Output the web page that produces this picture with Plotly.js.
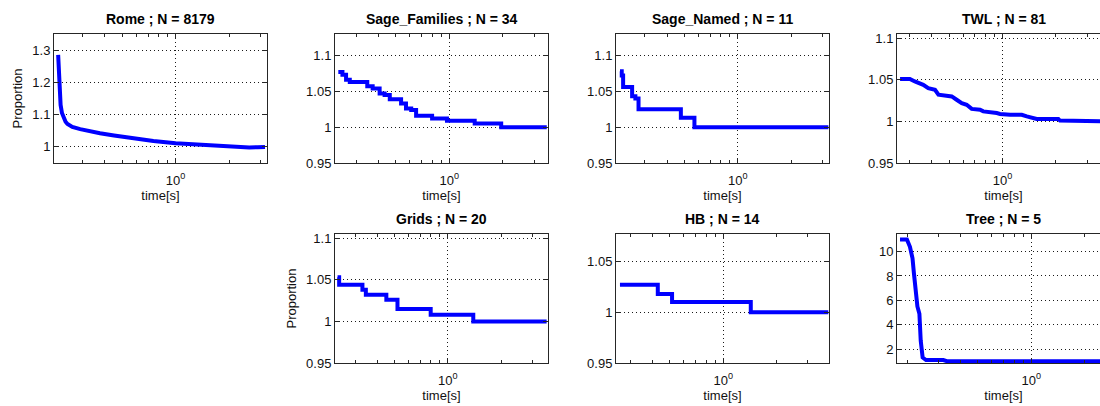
<!DOCTYPE html>
<html>
<head>
<meta charset="utf-8">
<script src="https://cdn.plot.ly/plotly-3.0.1.min.js"></script>
<style>
html,body{margin:0;padding:0;overflow:hidden;background:#fff;}
#chart{width:1120px;height:406px;}
</style>
</head>
<body>
<div id="chart"></div>
<script>
// ---------------- data ----------------
const panelNames  = ['Rome', 'Sage_Families', 'Sage_Named', 'TWL', 'Grids', 'HB', 'Tree'];
const panelCounts = [8179, 34, 11, 81, 20, 14, 5];

const romeTime = [0.218, 0.220, 0.222, 0.225, 0.229, 0.234, 0.240, 0.246, 0.253, 0.262, 0.29, 0.33, 0.375, 0.45, 0.578, 0.75, 1.0, 1.3, 1.7, 2.0, 2.3, 2.6, 2.9, 3.19];
const romeProp = [1.285, 1.23, 1.17, 1.13, 1.105, 1.09, 1.078, 1.071, 1.066, 1.062, 1.055, 1.048, 1.042, 1.035, 1.026, 1.018, 1.011, 1.007, 1.004, 1.002, 0.999, 0.998, 0.999, 1.0];

const sageFamTime = [0.237, 0.250, 0.262, 0.275, 0.345, 0.370, 0.405, 0.432, 0.462, 0.535, 0.570, 0.610, 0.650, 0.800, 0.970, 1.39, 1.96, 3.54];
const sageFamProp = [1.077, 1.073, 1.066, 1.063, 1.057, 1.054, 1.047, 1.045, 1.039, 1.033, 1.026, 1.024, 1.016, 1.012, 1.009, 1.005, 1.000, 1.000];

const sageNamTime = [0.217, 0.222, 0.226, 0.254, 0.265, 0.276, 0.478, 0.570, 3.24];
const sageNamProp = [1.078, 1.072, 1.056, 1.043, 1.040, 1.025, 1.013, 1.000, 1.000];

const twlTime = [0.265, 0.301, 0.321, 0.358, 0.382, 0.417, 0.436, 0.518, 0.552, 0.590, 0.629, 0.671, 0.748, 0.780, 0.929, 0.969, 1.104, 1.285, 1.371, 1.462, 1.560, 2.065, 2.11, 4.04];
const twlProp = [1.051, 1.051, 1.048, 1.044, 1.040, 1.038, 1.032, 1.030, 1.026, 1.022, 1.020, 1.015, 1.014, 1.012, 1.010, 1.009, 1.008, 1.008, 1.006, 1.004, 1.003, 1.003, 1.001, 1.000];

const gridsTime = [0.239, 0.244, 0.330, 0.345, 0.450, 0.520, 0.800, 1.39, 3.60];
const gridsProp = [1.053, 1.044, 1.038, 1.032, 1.026, 1.015, 1.008, 1.000, 1.000];

const hbTime = [0.262, 0.428, 0.515, 1.43, 3.91];
const hbProp = [1.027, 1.018, 1.010, 1.000, 1.000];

const treeTime = [0.182, 0.199, 0.207, 0.214, 0.218, 0.224, 0.228, 0.234, 0.238, 0.244, 0.255, 0.319, 0.334, 2.77];
const treeProp = [11.0, 11.0, 10.4, 9.45, 8.2, 6.0, 5.5, 4.9, 2.7, 1.3, 1.09, 1.09, 1.0, 1.0];

// tick labels
const xTickVals = [1];
const xTickText = ['10<sup>0</sup>'];
const xMinorVals = [0.2, 0.3, 0.4, 0.5, 0.6, 0.7, 0.8, 0.9, 2, 3, 4, 5, 6, 7, 8, 9];
const romeYTicks = [1, 1.1, 1.2, 1.3];
const romeYText  = ['1', '1.1', '1.2', '1.3'];
const sageYTicks = [0.95, 1, 1.05, 1.1];
const sageYText  = ['0.95', '1', '1.05', '1.1'];
const hbYTicks   = [0.95, 1, 1.05];
const hbYText    = ['0.95', '1', '1.05'];
const treeYTicks = [2, 4, 6, 8, 10];
const treeYText  = ['2', '4', '6', '8', '10'];

// ---------------- layout config ----------------
const W = 1120, H = 406;
const panels = [
  {t: romeTime,    y: romeProp,    shape: 'linear', box: [54, 267, 34, 163],   xr: [-0.685, 0.515], yr: [0.95, 1.35],  yt: romeYTicks, ytt: romeYText, ylab: true},
  {t: sageFamTime, y: sageFamProp, shape: 'hv',     box: [335, 548, 34, 163],  xr: [-0.644, 0.556], yr: [0.95, 1.13],  yt: sageYTicks, ytt: sageYText},
  {t: sageNamTime, y: sageNamProp, shape: 'hv',     box: [616, 829, 34, 163],  xr: [-0.686, 0.514], yr: [0.95, 1.13],  yt: sageYTicks, ytt: sageYText},
  {t: twlTime,     y: twlProp,     shape: 'linear', box: [897, 1110, 34, 163], xr: [-0.594, 0.606], yr: [0.95, 1.105], yt: sageYTicks, ytt: sageYText},
  {t: gridsTime,   y: gridsProp,   shape: 'hv',     box: [335, 548, 234, 363], xr: [-0.636, 0.564], yr: [0.95, 1.105], yt: sageYTicks, ytt: sageYText, ylab: true},
  {t: hbTime,      y: hbProp,      shape: 'hv',     box: [616, 829, 234, 363], xr: [-0.604, 0.596], yr: [0.95, 1.077], yt: hbYTicks,   ytt: hbYText},
  {t: treeTime,    y: treeProp,    shape: 'linear', box: [897, 1110, 234, 363], xr: [-0.757, 0.443], yr: [0.85, 11.45], yt: treeYTicks, ytt: treeYText}
];

const FONT = 'Liberation Sans, Arial, Helvetica, sans-serif';
const axisColor = '#262626';
const gridColor = '#1a1a1a';

const traces = [];
const layout = {
  width: W, height: H,
  margin: {l: 0, r: 0, t: 0, b: 0},
  paper_bgcolor: '#ffffff', plot_bgcolor: '#ffffff',
  showlegend: false,
  font: {family: FONT, size: 13, color: '#000'},
  annotations: []
};

panels.forEach((p, i) => {
  const n = i + 1;
  const xa = 'x' + (n === 1 ? '' : n), ya = 'y' + (n === 1 ? '' : n);
  const xk = 'xaxis' + (n === 1 ? '' : n), yk = 'yaxis' + (n === 1 ? '' : n);
  traces.push({
    x: p.t, y: p.y, xaxis: xa, yaxis: ya, type: 'scatter', mode: 'lines',
    line: {color: '#0000ff', width: 4, shape: p.shape}, hoverinfo: 'skip'
  });
  const [l, r, t, b] = p.box;
  layout[xk] = {
    domain: [l / W, r / W], anchor: ya, type: 'log', range: p.xr,
    tickmode: 'array', tickvals: xTickVals, ticktext: xTickText,
    ticks: 'inside', ticklen: 5, tickcolor: axisColor, tickwidth: 1,
    ticklabelstandoff: 5,
    minor: {tickmode: 'array', tickvals: xMinorVals, ticks: 'inside', ticklen: 3, tickcolor: axisColor, showgrid: false},
    showline: true, linecolor: axisColor, linewidth: 1, mirror: 'ticks',
    showgrid: true, gridcolor: gridColor, griddash: '1px,3px', gridwidth: 1,
    zeroline: false, fixedrange: true,
    tickfont: {family: FONT, size: 13, color: '#111'},
    title: {text: 'time[s]', font: {family: FONT, size: 13, color: '#111'}, standoff: 4}
  };
  const yAxis = {
    domain: [1 - b / H, 1 - t / H], anchor: xa, range: p.yr,
    tickmode: 'array', tickvals: p.yt, ticktext: p.ytt,
    ticks: 'inside', ticklen: 5, tickcolor: axisColor, tickwidth: 1,
    showline: true, linecolor: axisColor, linewidth: 1, mirror: 'ticks',
    showgrid: true, gridcolor: gridColor, griddash: '1px,3px', gridwidth: 1,
    zeroline: false, fixedrange: true,
    tickfont: {family: FONT, size: 13, color: '#111'}
  };
  if (p.ylab) {
    yAxis.title = {text: 'Proportion', font: {family: FONT, size: 13, color: '#111'}, standoff: 6};
  }
  layout[yk] = yAxis;
  layout.annotations.push({
    xref: 'paper', yref: 'paper', x: (l + r) / 2 / W, y: 1 - (t - 15) / H,
    xanchor: 'center', yanchor: 'middle', showarrow: false,
    text: '<b>' + panelNames[i] + ' ; N = ' + panelCounts[i] + '</b>',
    font: {family: FONT, size: 14, color: '#000'}
  });
});

Plotly.newPlot('chart', traces, layout, {staticPlot: true, displayModeBar: false});
</script>
</body>
</html>
